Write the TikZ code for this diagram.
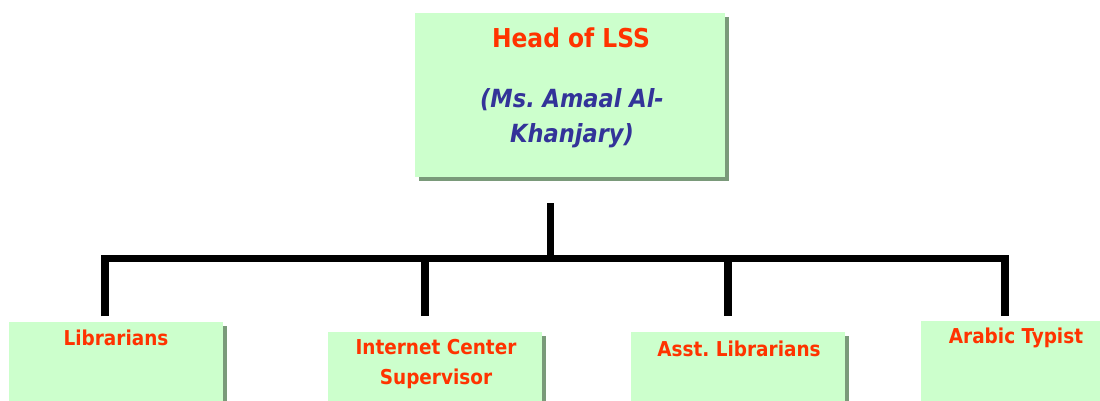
\documentclass[tikz,border=0pt]{standalone}
\usepackage{fontspec}
\setmainfont{DejaVu Sans Condensed}
\frenchspacing
\usetikzlibrary{shadows}
\definecolor{boxgreen}{HTML}{CCFFCC}
\definecolor{shadowgreen}{HTML}{7A9A7A}
\definecolor{titlered}{HTML}{FF3300}
\definecolor{nameblue}{HTML}{333399}
\definecolor{edgegray}{HTML}{7F7F7F}
\begin{document}
\begin{tikzpicture}[x=1pt,y=-1pt,
  orgbox/.style={fill=boxgreen, draw=none, inner sep=0pt, anchor=north west,
    drop shadow={shadow xshift=4pt, shadow yshift=-4pt, fill=shadowgreen, opacity=1}},
  headtext/.style={text=titlered, font=\bfseries\fontsize{26}{30}\selectfont, inner sep=0pt},
  nametext/.style={text=nameblue, font=\bfseries\itshape\fontsize{25}{35}\selectfont, align=center, inner sep=0pt},
  roletext/.style={text=titlered, font=\bfseries\fontsize{20.5}{30}\selectfont, align=center, inner sep=0pt},
  conn/.style={line width=7.5pt, black, line join=miter, line cap=butt},
  connedge/.style={line width=7.5pt, edgegray, line join=miter, line cap=butt}]
\useasboundingbox (0,0) rectangle (1100,400);
\clip (0,0) rectangle (1100,400);

% boxes
\node[orgbox, minimum width=310pt, minimum height=164pt] (head) at (415,13) {};
\node[orgbox, minimum width=214pt, minimum height=140pt] (lib) at (9,322) {};
\node[orgbox, minimum width=214pt, minimum height=140pt] (inet) at (328,332) {};
\node[orgbox, minimum width=214pt, minimum height=140pt] (asst) at (631,332) {};
\node[orgbox, minimum width=214pt, minimum height=140pt] (arab) at (921,321) {};

% texts
\node[headtext] (headT) at (571,38) {Head of LSS};
\node[nametext] (headN) at (572,118) {(Ms. Amaal Al-\\Khanjary)};
\node[roletext] (libT) at (116,338) {Librarians};
\node[roletext] (inetT) at (436,364) {Internet Center\\Supervisor};
\node[roletext] (asstT) at (739,349) {Asst. Librarians};
\node[roletext] (arabT) at (1016,338) {Arabic Typist};

% connector ends
\coordinate (top) at (550.5,203);
\coordinate (bar) at (550.5,258.5);
\coordinate (d1) at (105,316);
\coordinate (d2) at (425,316);
\coordinate (d3) at (728,316);
\coordinate (d4) at (1005,316);

% connectors: gray edge shifted up-left, black line on top
\begin{scope}[shift={(-2.5,-2.5)}]
  \draw[connedge] (top) -- (bar);
  \draw[connedge] (d1) -- (d1|-bar) -- (d4|-bar) -- (d4);
  \draw[connedge] (d2|-bar) -- (d2);
  \draw[connedge] (d3|-bar) -- (d3);
\end{scope}
\draw[conn] (top) -- (bar);
\draw[conn] (d1) -- (d1|-bar) -- (d4|-bar) -- (d4);
\draw[conn] (d2|-bar) -- (d2);
\draw[conn] (d3|-bar) -- (d3);
\end{tikzpicture}
\end{document}
